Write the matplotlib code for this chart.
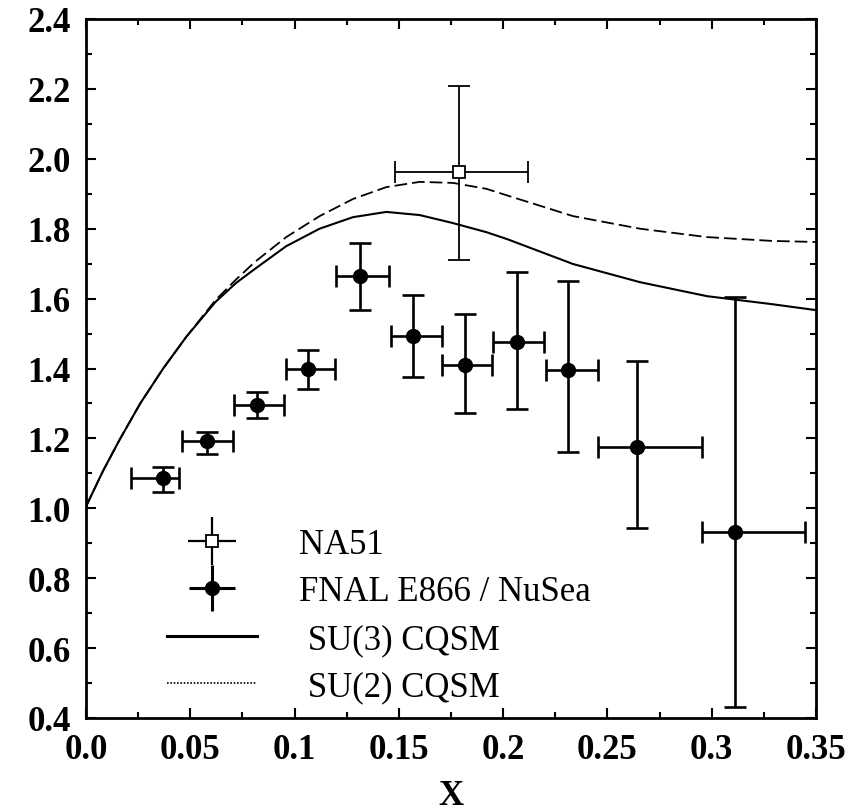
import matplotlib
matplotlib.use("Agg")
import matplotlib.pyplot as plt
from matplotlib.lines import Line2D
from matplotlib.legend_handler import HandlerTuple
import numpy as np

# ---------------- data ----------------
# FNAL E866 / NuSea
e866_x = [0.037, 0.0582, 0.0821, 0.1063, 0.1314, 0.1566, 0.1817, 0.2065, 0.2312, 0.2643, 0.3111]
e866_xlo = [0.0216, 0.0459, 0.0710, 0.0959, 0.1198, 0.1462, 0.1708, 0.1953, 0.2204, 0.2456, 0.2955]
e866_xhi = [0.0446, 0.0706, 0.0949, 0.1195, 0.1451, 0.1705, 0.1945, 0.2196, 0.2456, 0.2952, 0.3447]
e866_y = [1.086, 1.192, 1.296, 1.399, 1.666, 1.492, 1.410, 1.476, 1.396, 1.175, 0.932]
e866_ylo = [1.048, 1.155, 1.258, 1.341, 1.568, 1.375, 1.273, 1.284, 1.160, 0.944, 0.431]
e866_yhi = [1.117, 1.219, 1.334, 1.453, 1.760, 1.611, 1.556, 1.676, 1.650, 1.421, 1.605]

# NA51
na51_x = [0.179]
na51_xlo = [0.148]
na51_xhi = [0.212]
na51_y = [1.962]
na51_ylo = [1.710]
na51_yhi = [2.208]

# CQSM curves
su3_x = [0.0, 0.008, 0.016, 0.026, 0.037, 0.048, 0.062, 0.072, 0.081, 0.096, 0.112, 0.128,
         0.144, 0.160, 0.176, 0.192, 0.202, 0.2335, 0.2656, 0.2977, 0.329, 0.35]
su3_y = [1.005, 1.105, 1.195, 1.30, 1.40, 1.49, 1.59, 1.645, 1.685, 1.75, 1.80, 1.833,
         1.848, 1.839, 1.816, 1.79, 1.77, 1.699, 1.647, 1.607, 1.584, 1.567]
su2_x = [0.0, 0.008, 0.016, 0.026, 0.037, 0.048, 0.062, 0.072, 0.081, 0.096, 0.112, 0.128,
         0.144, 0.160, 0.176, 0.192, 0.202, 0.2335, 0.2656, 0.2977, 0.329, 0.35]
su2_y = [1.005, 1.105, 1.195, 1.30, 1.40, 1.49, 1.595, 1.655, 1.705, 1.776, 1.836, 1.885,
         1.919, 1.934, 1.931, 1.914, 1.895, 1.836, 1.80, 1.776, 1.765, 1.762]

xticks = [0.0, 0.05, 0.1, 0.15, 0.2, 0.25, 0.3, 0.35]
xticklabels = ["0.0", "0.05", "0.1", "0.15", "0.2", "0.25", "0.3", "0.35"]
yticks = [0.4, 0.6, 0.8, 1.0, 1.2, 1.4, 1.6, 1.8, 2.0, 2.2, 2.4]
yticklabels = ["0.4", "0.6", "0.8", "1.0", "1.2", "1.4", "1.6", "1.8", "2.0", "2.2", "2.4"]

labels = ["NA51", "FNAL E866 / NuSea", " SU(3) CQSM", " SU(2) CQSM"]
xlabel = "X"

# ---------------- plot ----------------
plt.rcParams['font.family'] = ['Liberation Serif', 'DejaVu Serif']

fig = plt.figure(figsize=(8.63, 8.12), dpi=100)
ax = fig.add_axes([86 / 863, 1 - 719 / 812, 730 / 863, 699 / 812])

su3_line, = ax.plot(su3_x, su3_y, color='black', lw=1.5, solid_capstyle='round')
su2_line, = ax.plot(su2_x, su2_y, color='black', lw=1.3, dashes=(7, 2.8))

ex = np.array(e866_x)
ey = np.array(e866_y)
e866_xerr = [ex - np.array(e866_xlo), np.array(e866_xhi) - ex]
e866_yerr = [ey - np.array(e866_ylo), np.array(e866_yhi) - ey]
e866 = ax.errorbar(ex, ey, xerr=e866_xerr, yerr=e866_yerr, fmt='o', color='black',
                   ms=10, elinewidth=1.9, capsize=8, capthick=1.9, zorder=5)

nx = np.array(na51_x)
ny = np.array(na51_y)
na51_xerr = [nx - np.array(na51_xlo), np.array(na51_xhi) - nx]
na51_yerr = [ny - np.array(na51_ylo), np.array(na51_yhi) - ny]
na51 = ax.errorbar(nx, ny, xerr=na51_xerr, yerr=na51_yerr, fmt='s', color='black',
                   mfc='white', mec='black', mew=1.3, ms=9, elinewidth=1.3,
                   capsize=8, capthick=1.3, zorder=6)

ax.set_xlim(0.0, 0.35)
ax.set_ylim(0.4, 2.4)
ax.set_xticks(xticks)
ax.set_xticklabels(xticklabels)
ax.set_yticks(yticks)
ax.set_yticklabels(yticklabels)
ax.set_xticks(np.arange(0.025, 0.35, 0.05), minor=True)
ax.set_yticks(np.arange(0.5, 2.4, 0.2), minor=True)

ax.tick_params(which='both', direction='in', top=True, right=True, width=1.5)
ax.tick_params(which='major', length=7, labelsize=25, pad=11)
ax.tick_params(which='minor', length=4)
for lab in ax.get_xticklabels() + ax.get_yticklabels():
    lab.set_fontweight('bold')
for sp in ax.spines.values():
    sp.set_linewidth(2.0)

ax.set_xlabel(xlabel, fontsize=25, fontweight='bold', labelpad=9)

# legend proxies
na51_h = (Line2D([], [], ls='none', marker='+', ms=34, mew=1.6, color='black'),
          Line2D([], [], ls='none', marker='s', ms=8, mfc='white', mec='black', mew=1.3))
e866_h = (Line2D([], [], ls='none', marker='+', ms=33, mew=2.2, color='black'),
          Line2D([], [], ls='none', marker='o', ms=10, color='black'))
su3_h = Line2D([], [], color='black', lw=2.2)
su2_h = Line2D([], [], color='black', lw=1.2, linestyle=(0, (1, 1)))
leg = ax.legend([na51_h, e866_h, su3_h, su2_h], labels,
                loc='upper left', bbox_to_anchor=(0.111, 0.272),
                frameon=False, fontsize=25, handlelength=2.6, handletextpad=1.2,
                labelspacing=0.42, borderpad=0, borderaxespad=0, numpoints=1,
                handler_map={tuple: HandlerTuple(ndivide=1)})

fig.savefig("out.png", dpi=100)
